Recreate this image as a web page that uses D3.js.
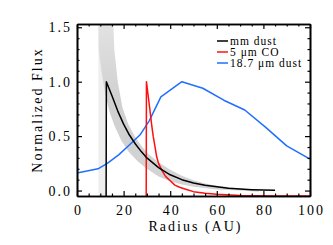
<!DOCTYPE html>
<html><head><meta charset="utf-8">
<script src="https://cdn.jsdelivr.net/npm/d3@7"></script>
<style>
body{margin:0;background:#fff;}
svg text{font-family:"Liberation Serif","DejaVu Serif",serif;fill:#000;}
</style></head>
<body><svg id="c" width="333" height="245"></svg>
<script>
// ---- data ----
const xTicks = [0, 20, 40, 60, 80, 100];
const yTicks = [0.0, 0.5, 1.0, 1.5];
const yTickLabels = ["0.0", "0.5", "1.0", "1.5"];
const seriesNames = ["mm dust", "5 \u03bcm CO", "18.7 \u03bcm dust"];

// mm dust (black)
const mmR = [12.5, 12.6, 15, 17.5, 20, 22.5, 25, 27.5, 30, 35, 40, 45, 50, 55, 60, 65, 70, 75, 80, 85];
const mmV = [-0.06, 1.0, 0.87, 0.73, 0.61, 0.51, 0.43, 0.36, 0.30, 0.21, 0.145, 0.10, 0.07, 0.048, 0.034, 0.022, 0.014, 0.008, 0.004, 0.002];

// 5 um CO (red)
const coR = [12.5, 29.7, 29.8, 30.5, 31.3, 32, 32.7, 33.5, 34.2, 35, 36.3, 38, 40, 42, 44, 47, 50, 55, 60, 70, 85, 100];
const coV = [-0.06, -0.06, 1.0, 0.88, 0.74, 0.61, 0.50, 0.40, 0.31, 0.25, 0.19, 0.13, 0.09, 0.05, 0.03, 0.01, -0.01, -0.025, -0.035, -0.045, -0.05, -0.05];

// 18.7 um dust (blue)
const irR = [0, 9, 13, 18, 22, 27, 31, 36, 45, 54, 63, 72, 81, 90, 100];
const irV = [0.16, 0.20, 0.25, 0.33, 0.41, 0.51, 0.64, 0.86, 1.00, 0.94, 0.83, 0.74, 0.58, 0.41, 0.29];

// model draws envelope (grey)
const bandUpR = [9.2, 15.5, 16.0, 17.5, 19.5, 22, 25, 28, 31, 35, 40, 45, 50, 55, 60, 70, 78];
const bandUpV = [1.6, 1.6, 1.3, 1.0, 0.76, 0.61, 0.49, 0.40, 0.33, 0.26, 0.19, 0.135, 0.095, 0.065, 0.045, 0.018, 0.0];
const bandLoR = [78, 70, 60, 50, 45, 40, 35, 30, 26, 22, 19, 16, 14, 12, 10.5, 9.3, 9.2];
const bandLoV = [-0.01, 0.0, 0.01, 0.035, 0.055, 0.085, 0.13, 0.20, 0.27, 0.36, 0.46, 0.60, 0.72, 0.90, 1.1, 1.3, 1.6];
const stripR = [9.2, 12.7];

// ---- layout ----
const L = 77, R = 310, T = 24, B = 196;
const svg = d3.select("#c");
const x = d3.scaleLinear().domain([0, 100]).range([L, R]);
const y = d3.scaleLinear().domain([-0.05, 1.53]).range([B, T]);

const defs = svg.append("defs");
defs.append("clipPath").attr("id", "clip")
  .append("rect").attr("x", L).attr("y", T).attr("width", R - L).attr("height", B - T);
const grad = defs.append("linearGradient").attr("id", "bg")
  .attr("gradientUnits", "userSpaceOnUse").attr("x1", 0).attr("x2", 0).attr("y1", T).attr("y2", B);
grad.append("stop").attr("offset", 0).attr("stop-color", "#e2e2e2");
grad.append("stop").attr("offset", 0.45).attr("stop-color", "#d0d0d0");
grad.append("stop").attr("offset", 1).attr("stop-color", "#d4d4d4");
const g = svg.append("g").attr("clip-path", "url(#clip)");

// vertical light strip
g.append("rect").attr("x", x(stripR[0])).attr("width", x(stripR[1]) - x(stripR[0]))
  .attr("y", y(1.6)).attr("height", y(-0.1) - y(1.6)).attr("fill", "#eeeeee");

// band
const bandPts = bandUpR.map((r, i) => [r, bandUpV[i]])
  .concat(bandLoR.map((r, i) => [r, bandLoV[i]]));
const ln = d3.line().x(d => x(d[0])).y(d => y(d[1]));
g.append("path").attr("d", ln(bandPts) + "Z").attr("fill", "url(#bg)");

function drawSeries(rs, vs, col) {
  g.append("path").attr("d", ln(rs.map((r, i) => [r, vs[i]])))
    .attr("fill", "none").attr("stroke", col).attr("stroke-width", 1.5)
    .attr("stroke-linejoin", "round");
}
drawSeries(irR, irV, "#1f6fff");
drawSeries(coR, coV, "#ff1010");
drawSeries(mmR, mmV, "#000");

// ---- axes ----
const minorX = d3.range(0, 101, 5).filter(v => v % 20 !== 0);
const minorY = d3.range(0, 16).map(v => v / 10).filter(v => Math.round(v * 10) % 5 !== 0);
function axis(gen, tx, ty, vals, size, labels) {
  const a = svg.append("g").attr("transform", `translate(${tx},${ty})`)
    .call(gen.tickValues(vals).tickSize(size).tickSizeOuter(0)
      .tickFormat(labels ? (d, i) => labels[i] : () => ""));
  a.attr("font-family", null);
  a.select(".domain").attr("stroke-width", 1.6);
  a.selectAll(".tick line").attr("stroke-width", 1.2);
  return a;
}
const bx = axis(d3.axisBottom(x).tickPadding(9), 0, B, xTicks, -5, xTicks.map(String));
axis(d3.axisBottom(x), 0, B, minorX, -2.5, null);
axis(d3.axisTop(x), 0, T, xTicks, -5, null);
axis(d3.axisTop(x), 0, T, minorX, -2.5, null);
const ly = axis(d3.axisLeft(y).tickPadding(5), L, 0, yTicks, -5, yTickLabels);
axis(d3.axisLeft(y), L, 0, minorY, -2.5, null);
axis(d3.axisRight(y), R, 0, yTicks, -5, null);
axis(d3.axisRight(y), R, 0, minorY, -2.5, null);
svg.selectAll(".tick text").attr("font-size", 14).attr("letter-spacing", 2);
bx.selectAll(".tick text").attr("dy", "0.7em").attr("dx", 1);

// titles
svg.append("text").attr("x", (L + R) / 2 + 2).attr("y", 231).attr("text-anchor", "middle")
  .attr("font-size", 14).attr("letter-spacing", 2).text("Radius (AU)");
svg.append("text").attr("transform", `translate(42,${(T + B) / 2}) rotate(-90)`)
  .attr("text-anchor", "middle").attr("font-size", 14).attr("letter-spacing", 2)
  .text("Normalized Flux");

// legend
const legCols = ["#000", "#ff1010", "#1f6fff"];
const leg = svg.append("g");
seriesNames.forEach((n, i) => {
  const yy = 41 + i * 11;
  leg.append("line").attr("x1", 217).attr("x2", 228).attr("y1", yy).attr("y2", yy)
    .attr("stroke", legCols[i]).attr("stroke-width", 1.5);
  leg.append("text").attr("x", 230).attr("y", yy + 3.5).attr("font-size", 11.5)
    .attr("letter-spacing", 1).text(n);
});
</script></body></html>
